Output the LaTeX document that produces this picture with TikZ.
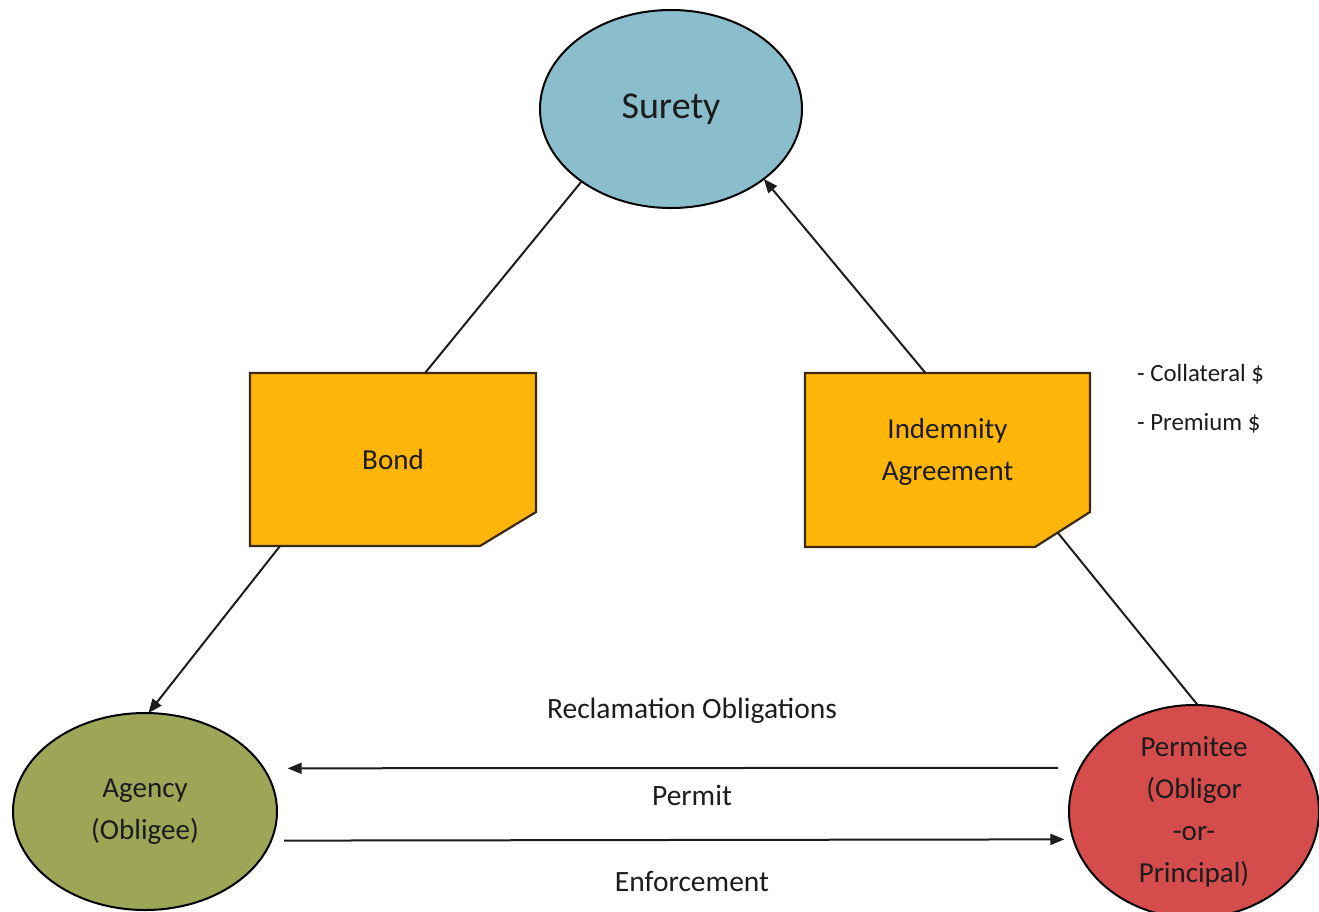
\documentclass[tikz,border=0pt]{standalone}
\usepackage{fontspec}
\setmainfont{Carlito}
\usetikzlibrary{arrows.meta,shapes.geometric}
\pgfdeclarelayer{background}
\pgfsetlayers{background,main}
\definecolor{suretyfill}{RGB}{139,190,205}
\definecolor{docfill}{RGB}{255,181,10}
\definecolor{docline}{RGB}{58,42,16}
\definecolor{agencyfill}{RGB}{157,165,87}
\definecolor{permfill}{RGB}{213,76,76}
\definecolor{txt}{RGB}{28,28,28}
\tikzset{
  oval/.style={ellipse, draw=black, line width=2pt, inner sep=0pt, outer sep=0pt, text=txt, align=center, font=\fontsize{29}{42}\selectfont},
  docnode/.style={rectangle, draw=none, inner sep=0pt, outer sep=0pt, minimum width=286pt, minimum height=173pt, text=txt, align=center, font=\fontsize{29}{42}\selectfont},
  docshape/.style={fill=docfill, draw=docline, line width=2.2pt, line join=miter},
  conn/.style={draw=txt, line width=2pt},
  arr/.style={conn, -{Triangle[length=14pt,width=11pt]}},
  lbl/.style={text=txt, inner sep=0pt, font=\fontsize{29.5}{34}\selectfont},
  side/.style={text=txt, inner sep=0pt, anchor=west, font=\fontsize{24.8}{28}\selectfont}
}
\begin{document}
\begin{tikzpicture}[x=1pt,y=-1pt]
\useasboundingbox (0,0) rectangle (1319,911);
% ellipses
\node[oval, fill=suretyfill, minimum width=262pt, minimum height=198pt, font=\fontsize{38}{44}\selectfont] (sur) at (671,109) {Surety};
\node[oval, fill=agencyfill, minimum width=264pt, minimum height=197pt] (ag) at (145,811.5) {Agency\\(Obligee)};
\node[oval, fill=permfill, minimum width=250pt, minimum height=197pt] (per) at (1194,811.5) {Permitee\\(Obligor\\-or-\\Principal)};
% document boxes
\node[docnode] (bond) at (393,459.5) {Bond};
\node[docnode, minimum width=285pt, minimum height=174pt] (ind) at (947.5,460) {};
\node[text=txt, align=center, inner sep=0pt, font=\fontsize{29}{42}\selectfont] (indt) at (947.5,452) {Indemnity\\Agreement};
\begin{pgfonlayer}{background}
\draw[docshape] (bond.north west) -- (bond.north east) -- ([yshift=34pt]bond.south east) -- ([xshift=-56pt]bond.south east) -- (bond.south west) -- cycle;
\draw[docshape] (ind.north west) -- (ind.north east) -- ([yshift=35pt]ind.south east) -- ([xshift=-55pt]ind.south east) -- (ind.south west) -- cycle;
\end{pgfonlayer}
% side notes
\node[side] (coll) at (1137,374) {- Collateral \$};
\node[side] (prem) at (1137,423) {- Premium \$};
% connectors
\draw[conn] (sur.219) -- ([xshift=32pt]bond.north);
\draw[arr] ([xshift=30pt]bond.south west) -- (ag.88);
\draw[arr] ([xshift=-22pt]ind.north) -- (sur.323);
\draw[conn] (per.88) -- ([xshift=-32pt,yshift=14pt]ind.south east);
\draw[arr, shorten <=22pt, shorten >=24pt] (per.159) -- (ag.20);
\draw[arr, shorten <=13pt, shorten >=9pt] (ag.347.6) -- (per.193.1);
% labels
\node[lbl] (rec) at (692,711) {Reclamation Obligations};
\node[lbl] (perm) at (692,795) {Permit};
\node[lbl] (enf) at (692,881) {Enforcement};
\end{tikzpicture}
\end{document}
